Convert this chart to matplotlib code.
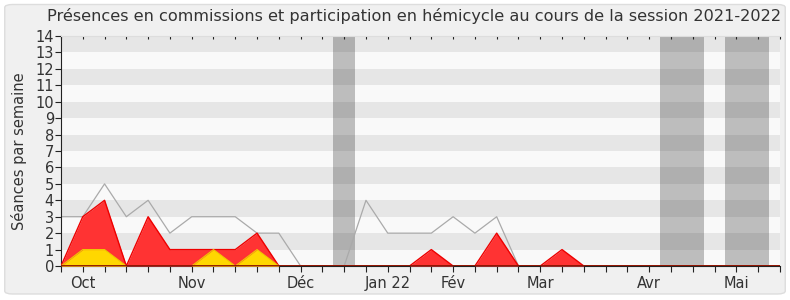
import matplotlib
matplotlib.use("Agg")
import matplotlib.pyplot as plt
import matplotlib.lines as mlines
import numpy as np
from matplotlib.patches import FancyBboxPatch

# weekly values, session 2021-2022 (week index 0..33)
semaines = np.arange(34)
hemicycle = [3, 3, 5, 3, 4, 2, 3, 3, 3, 2, 2, 0, 0, 0, 4, 2, 2, 2, 3, 2, 3, 0,
             0, 0, 0, 0, 0, 0, 0, 0, 0, 0, 0, 0]
commissions = [0, 3, 4, 0, 3, 1, 1, 1, 1, 2, 0, 0, 0, 0, 0, 0, 0, 1, 0, 0, 2, 0,
               0, 1, 0, 0, 0, 0, 0, 0, 0, 0, 0, 0]
presidence = [0, 1, 1, 0, 0, 0, 0, 1, 0, 1, 0, 0, 0, 0, 0, 0, 0, 0, 0, 0, 0, 0,
              0, 0, 0, 0, 0, 0, 0, 0, 0, 0, 0, 0]
vacances = [(12.5, 13.5), (27.5, 29.5), (30.5, 32.5)]
mois_pos = [1, 6, 11, 15, 18, 22, 27, 31]
mois_lab = ['Oct', 'Nov', 'Déc', 'Jan 22', 'Fév', 'Mar', 'Avr', 'Mai']

fig = plt.figure(figsize=(7.9, 3.0), dpi=100)
fig.patch.set_facecolor('white')
fig.patches.append(FancyBboxPatch((0.006, 0.02), 0.988, 0.965, boxstyle="round,pad=0,rounding_size=0.01",
                                  transform=fig.transFigure, facecolor='#f0f0f0', edgecolor='#dddddd',
                                  linewidth=1, zorder=-10))
ax = fig.add_axes([0.0772, 0.1133, 0.91, 0.7667])

# alternating bands
for k in range(14):
    ax.axhspan(k, k + 1, color='#e6e6e6' if k % 2 else '#f9f9f9', lw=0, zorder=0)
for a, b in vacances:
    ax.axvspan(a, b, color='black', alpha=0.24, lw=0, zorder=1)

ax.plot(semaines, hemicycle, color='#aaaaaa', lw=0.9, zorder=2)
ax.fill_between(semaines, 0, commissions, color='#ff3333', lw=0, zorder=3)
ax.plot(semaines, commissions, color='#ee0000', lw=1, zorder=4)
ax.fill_between(semaines, 0, presidence, color='#ffd700', lw=0, zorder=5)
ax.plot(semaines, presidence, color='#eecc00', lw=0.8, zorder=5)
ax.axhline(0, color='#800000', lw=1.2, zorder=6)

ax.set_xlim(0, 33)
ax.set_ylim(0, 14)
ax.set_yticks(range(15))
labels = [''] * len(semaines)
for p, l in zip(mois_pos, mois_lab):
    labels[p] = l
ax.set_xticks(semaines)
ax.set_xticklabels(labels)
ax.tick_params(axis='x', length=4, direction='out', top=True, color='#222222',
               pad=3, labelsize=10.5, labelcolor='#333333')
ax.tick_params(axis='y', length=4, pad=1, labelsize=10.5, labelcolor='#333333', color='#222222')
# lighter, shorter ticks pointing into the plot along the top edge
for t in ax.xaxis.get_major_ticks():
    t.tick2line.set_marker(mlines.TICKDOWN)
    t.tick2line.set_color('#777777')
    t.tick2line.set_markersize(2)
ax.spines['right'].set_visible(False)
ax.spines['top'].set_color('#dddddd')
ax.spines['left'].set_color('#222222')
ax.spines['bottom'].set_color('#222222')

ax.set_ylabel('Séances par semaine', fontsize=10.5, color='#333333', labelpad=6)
fig.text(414 / 790, 1 - 16 / 300,
         'Présences en commissions et participation en hémicycle au cours de la session 2021-2022',
         fontsize=11.6, color='#333333', ha='center', va='center')

fig.savefig('out.png', dpi=100)
